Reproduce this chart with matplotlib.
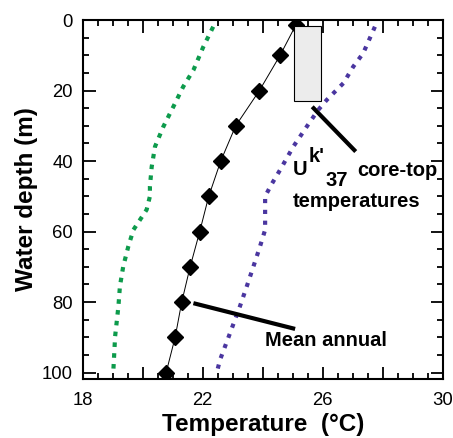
import matplotlib.pyplot as plt
from matplotlib.patches import Rectangle

plt.rcParams['font.family'] = ['Liberation Sans', 'DejaVu Sans']

# mean annual temperature profile (diamonds)
mean_depth = [1.5, 10, 20, 30, 40, 50, 60, 70, 80, 90, 100]
mean_temp = [25.1, 24.58, 23.89, 23.1, 22.6, 22.2, 21.9, 21.58, 21.3, 21.08, 20.78]

# cold season profile (green dotted)
cold_depth = [1.9, 7.6, 14.2, 18.9, 24.6, 30.2, 35.9, 41.6, 47.2, 50, 53.8,
              59.5, 64.2, 69.9, 75.5, 81.2, 89.7, 99.6]
cold_temp = [22.35, 22.02, 21.69, 21.35, 21.02, 20.69, 20.41, 20.3, 20.24, 20.24,
             20.13, 19.69, 19.52, 19.35, 19.24, 19.19, 19.08, 19.02]

# warm season profile (purple dotted)
warm_depth = [1.9, 9.4, 13.2, 17.9, 22.7, 25.5, 30.2, 35.9, 42.5, 46.5, 50,
              54.8, 59.5, 64.2, 69.9, 75.5, 81.2, 88.8, 96.3, 99.9]
warm_temp = [27.74, 27.35, 27.02, 26.69, 26.13, 25.85, 25.47, 25.02, 24.58, 24.3,
             24.08, 24.08, 24.08, 23.91, 23.69, 23.47, 23.24, 22.91, 22.58, 22.47]

# Uk'37 core-top temperature range
box_temp = [25.05, 25.93]
box_depth = [1.7, 23.1]

x_ticks = [18, 20, 22, 24, 26, 28, 30]
x_labels = ['18', '', '22', '', '26', '', '30']
y_ticks = [0, 20, 40, 60, 80, 100]

fig = plt.figure(figsize=(4.53, 4.38), dpi=100)
ax = fig.add_axes([0.1826, 0.1347, 0.7947, 0.8196])

ax.plot(cold_temp, cold_depth, color='#0d9b4c', lw=3, ls=(0, (1.1, 1.5)),
        dash_capstyle='butt', zorder=2)
ax.plot(warm_temp, warm_depth, color='#4a36a0', lw=3, ls=(0, (1.0, 1.6)),
        dash_capstyle='butt', zorder=2)
ax.plot(mean_temp, mean_depth, color='black', lw=0.7, marker='D', ms=8.5,
        mfc='black', mec='black', zorder=3)

ax.add_patch(Rectangle((box_temp[0], box_depth[0]), box_temp[1] - box_temp[0],
                       box_depth[1] - box_depth[0], facecolor='#ececec',
                       edgecolor='black', lw=0.8, zorder=4))

# leader lines
ax.plot([25.65, 27.1], [24.6, 37.3], color='black', lw=3, solid_capstyle='butt', zorder=5)
ax.plot([21.69, 25.08], [80.3, 87.6], color='black', lw=3, solid_capstyle='butt', zorder=5)

tkw = dict(fontsize=14.5, fontweight='bold', va='center', ha='left')
ax.text(25.01, 42.5, 'U', **tkw)
ax.text(25.54, 38.8, "k'", **tkw)
ax.text(26.08, 45.5, '37', **tkw)
ax.text(27.14, 42.8, 'core-top', **tkw)
ax.text(25.01, 51.6, 'temperatures', **tkw)
ax.text(24.08, 90.9, 'Mean annual', **tkw)

ax.set_xlim(18, 30)
ax.set_ylim(101.8, 0)
ax.set_xticks(x_ticks)
ax.set_xticklabels(x_labels)
ax.set_xticks([18 + 0.5 * i for i in range(25)], minor=True)
ax.set_yticks(y_ticks)
ax.set_yticks(list(range(0, 101, 5)), minor=True)

ax.tick_params(which='both', direction='in', top=True, right=True, width=1.3,
               labelsize=13.3)
ax.tick_params(which='major', length=9)
ax.tick_params(which='minor', length=4.5)
ax.tick_params(axis='x', pad=9)
ax.tick_params(axis='y', pad=7)
for s in ax.spines.values():
    s.set_linewidth(1.5)

ax.set_xlabel('Temperature  (°C)', fontsize=17.5, fontweight='bold', labelpad=3)
ax.set_ylabel('Water depth (m)', fontsize=17.5, fontweight='bold', labelpad=3)

fig.savefig('out.png', dpi=100)
